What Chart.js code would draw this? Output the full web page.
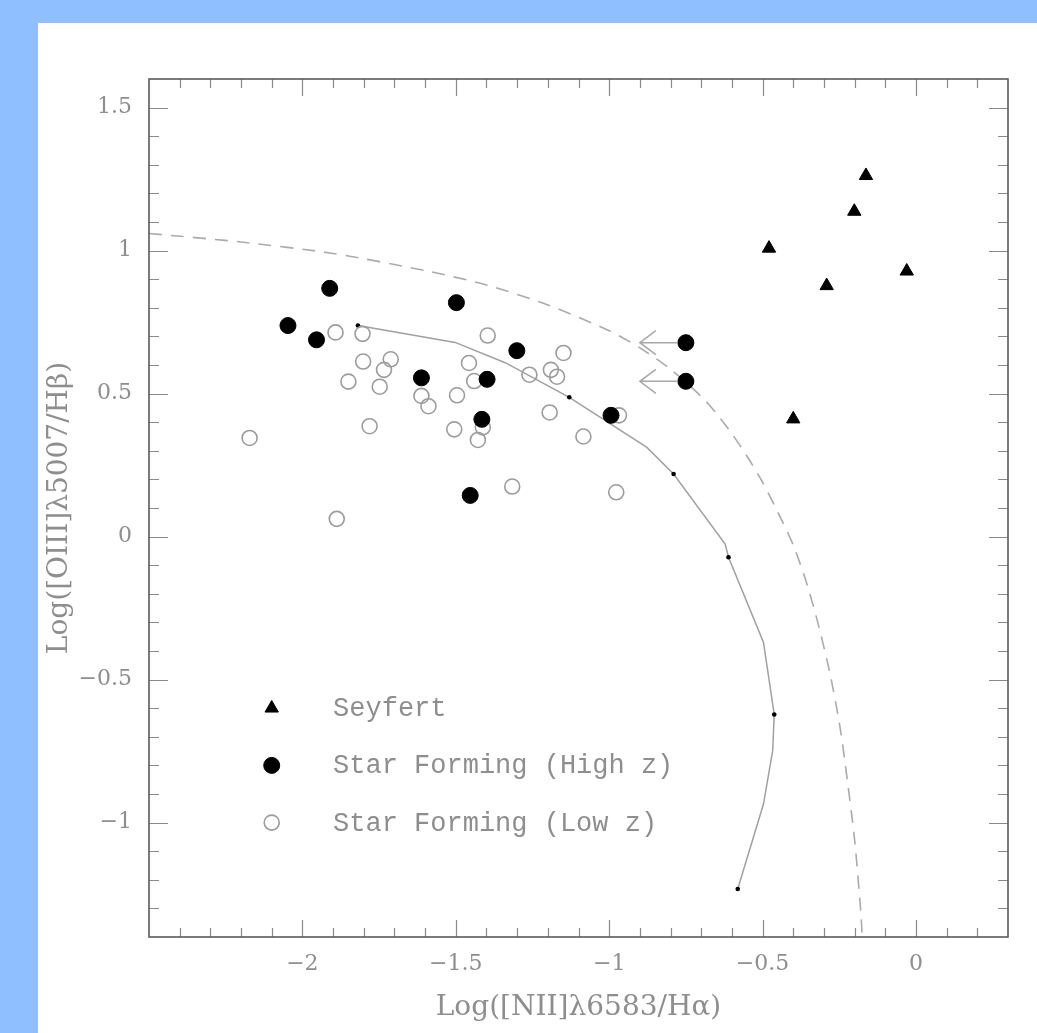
<!DOCTYPE html>
<html>
<head>
<meta charset="utf-8">
<title>BPT diagram</title>
<script src="https://cdn.jsdelivr.net/npm/chart.js@4.4.0/dist/chart.umd.min.js"></script>
<style>
  html, body { margin: 0; padding: 0; width: 1037px; height: 1033px; overflow: hidden; background: #8fbfff; }
  #panel { position: absolute; left: 38px; top: 23px; width: 999px; height: 1010px; background: #fff; }
  canvas { display: block; }
</style>
</head>
<body>
<div id="panel"><canvas id="bpt" width="999" height="1010"></canvas></div>
<script>
// ---- data -----------------------------------------------------------------
const xTitle = 'Log([NII]\u03bb6583/H\u03b1)';
const yTitle = 'Log([OIII]\u03bb5007/H\u03b2)';
const xTickValues = [-2, -1.5, -1, -0.5, 0];
const yTickValues = [-1, -0.5, 0, 0.5, 1, 1.5];

const seyfertX = [-0.163, -0.201, -0.479, -0.030, -0.291, -0.400];
const seyfertY = [1.262, 1.137, 1.008, 0.928, 0.877, 0.411];

const highZX = [-2.047, -1.954, -1.911, -1.612, -1.498, -1.453, -1.415, -1.398, -1.301, -0.994, -0.750, -0.750];
const highZY = [0.738, 0.688, 0.868, 0.555, 0.818, 0.144, 0.410, 0.550, 0.650, 0.424, 0.678, 0.543];
// [NII] upper limits: these objects get an arrow pointing to lower values
const highZLimit = [false, false, false, false, false, false, false, false, false, false, true, true];
const limitArrowTo = -0.90;

const lowZX = [-2.172, -1.892, -1.804, -1.802, -1.712, -1.734, -1.850, -1.748, -1.781, -1.888,
               -1.612, -1.589, -1.496, -1.505, -1.457, -1.440, -1.412, -1.428, -1.396, -1.316,
               -1.260, -1.190, -1.170, -1.149, -1.194, -1.084, -0.968, -0.977];
const lowZY = [0.345, 0.714, 0.709, 0.612, 0.620, 0.583, 0.542, 0.524, 0.386, 0.062,
               0.492, 0.456, 0.494, 0.375, 0.607, 0.544, 0.382, 0.338, 0.703, 0.175,
               0.566, 0.583, 0.559, 0.642, 0.434, 0.350, 0.424, 0.155];

// photoionization model track; grid nodes are marked with a dot
const modelX = [-1.819, -1.502, -1.339, -1.130, -0.877, -0.790, -0.622, -0.611, -0.497, -0.462, -0.467, -0.497, -0.581];
const modelY = [0.738, 0.679, 0.608, 0.487, 0.312, 0.219, -0.026, -0.072, -0.370, -0.622, -0.748, -0.935, -1.232];
const modelNodes = [0, 3, 5, 7, 9, 12];

// star-forming / AGN dividing line
const divX = [-2.5, -2.2, -1.9, -1.6, -1.4, -1.2, -1.0, -0.9, -0.8, -0.7, -0.65, -0.6, -0.55,
              -0.5, -0.45, -0.40, -0.36, -0.32, -0.28, -0.25, -0.23, -0.20, -0.18, -0.175];
const divY = [1.06, 1.03, 0.99, 0.93, 0.88, 0.81, 0.72, 0.66, 0.585, 0.49, 0.43, 0.36, 0.28,
              0.19, 0.085, -0.03, -0.15, -0.30, -0.48, -0.65, -0.80, -1.06, -1.31, -1.40];

const zip = (xs, ys) => xs.map((v, i) => ({ x: v, y: ys[i] }));
const fmt = v => (v < 0 ? '\u2212' + Math.abs(v) : String(v));

const labelGrey = '#8e8e8e';
const serif = 'DejaVu Serif';

// ---- plugins --------------------------------------------------------------
// Boxed frame with inward tick marks on all four sides
const framePlugin = {
  id: 'frame',
  afterDraw(chart) {
    const { ctx, chartArea: a, scales: { x, y } } = chart;
    ctx.save();
    ctx.strokeStyle = '#8a8a8a';
    ctx.lineWidth = 1.2;
    ctx.beginPath();
    for (let k = Math.ceil(x.min * 10 + 1e-6); k <= Math.floor(x.max * 10 - 1e-6); k++) {
      const px = Math.round(x.getPixelForValue(k / 10)) + 0.5;
      const len = k % 5 === 0 ? 17 : 9;
      ctx.moveTo(px, a.bottom); ctx.lineTo(px, a.bottom - len);
      ctx.moveTo(px, a.top); ctx.lineTo(px, a.top + len);
    }
    for (let k = Math.ceil(y.min * 10 + 1e-6); k <= Math.floor(y.max * 10 - 1e-6); k++) {
      const py = Math.round(y.getPixelForValue(k / 10)) + 0.5;
      const len = k % 5 === 0 ? 19 : 10;
      ctx.moveTo(a.left, py); ctx.lineTo(a.left + len, py);
      ctx.moveTo(a.right, py); ctx.lineTo(a.right - len, py);
    }
    ctx.stroke();
    ctx.strokeStyle = '#5a5a5a';
    ctx.lineWidth = 1.6;
    ctx.strokeRect(a.left, a.top, a.right - a.left, a.bottom - a.top);
    ctx.restore();
  }
};

// Arrows for upper limits, plus the in-panel key
const annotPlugin = {
  id: 'annot',
  afterDatasetsDraw(chart) {
    const { ctx, scales: { x, y } } = chart;
    ctx.save();
    ctx.strokeStyle = '#a8a8a8';
    ctx.lineWidth = 1.5;
    highZX.forEach((v, i) => {
      if (!highZLimit[i]) return;
      const x0 = x.getPixelForValue(v) - 8;
      const x1 = x.getPixelForValue(limitArrowTo);
      const py = y.getPixelForValue(highZY[i]);
      ctx.beginPath();
      ctx.moveTo(x0, py); ctx.lineTo(x1, py);
      ctx.moveTo(x1 + 16, py - 12); ctx.lineTo(x1, py); ctx.lineTo(x1 + 16, py + 12);
      ctx.stroke();
    });

    // key
    const rows = [
      { label: 'Seyfert', ds: 0, at: -0.6 },
      { label: 'Star Forming (High z)', ds: 1, at: -0.8 },
      { label: 'Star Forming (Low z)', ds: 2, at: -1.0 }
    ];
    const mx = x.getPixelForValue(-2.1);
    const tx = x.getPixelForValue(-1.9);
    ctx.font = '27px "Liberation Mono"';
    ctx.textAlign = 'left';
    ctx.textBaseline = 'alphabetic';
    rows.forEach(r => {
      const py = y.getPixelForValue(r.at);
      const o = chart.data.datasets[r.ds];
      ctx.fillStyle = o.backgroundColor;
      ctx.strokeStyle = o.borderColor;
      ctx.lineWidth = o.borderWidth;
      Chart.helpers.drawPoint(ctx, {
        pointStyle: o.pointStyle, radius: o.pointRadius, rotation: 0, borderWidth: o.borderWidth
      }, mx, py);
      ctx.fillStyle = labelGrey;
      ctx.fillText(r.label, tx, py + 8);
    });
    ctx.restore();
  }
};

// ---- chart ----------------------------------------------------------------
new Chart(document.getElementById('bpt'), {
  type: 'scatter',
  data: {
    datasets: [
      {
        label: 'Seyfert', data: zip(seyfertX, seyfertY), pointStyle: 'triangle', pointRadius: 7.7,
        backgroundColor: '#000', borderColor: '#000', borderWidth: 1, order: 0
      },
      {
        label: 'Star Forming (High z)', data: zip(highZX, highZY), pointStyle: 'circle', pointRadius: 8,
        backgroundColor: '#000', borderColor: '#000', borderWidth: 1, order: 1
      },
      {
        label: 'Star Forming (Low z)', data: zip(lowZX, lowZY), pointStyle: 'circle', pointRadius: 7.5,
        backgroundColor: 'rgba(255,255,255,0)', borderColor: '#9c9c9c', borderWidth: 1.6, order: 2
      },
      {
        label: 'model', data: zip(modelX, modelY), showLine: true, tension: 0,
        borderColor: '#a0a0a0', borderWidth: 1.5,
        pointRadius: ctx => (modelNodes.includes(ctx.dataIndex) ? 2.3 : 0),
        pointBackgroundColor: '#000', pointBorderWidth: 0, order: 3
      },
      {
        label: 'dividing line', data: zip(divX, divY), showLine: true, tension: 0.25,
        borderColor: '#ababab', borderWidth: 1.6, borderDash: [13, 9], pointRadius: 0, order: 4
      }
    ]
  },
  options: {
    responsive: false,
    animation: false,
    devicePixelRatio: 1,
    layout: { padding: { top: 56, right: 29, left: 0, bottom: 0 } },
    plugins: { legend: { display: false }, tooltip: { enabled: false } },
    scales: {
      x: {
        type: 'linear', min: -2.5, max: 0.3,
        grid: { display: false, drawTicks: false },
        border: { display: false },
        afterBuildTicks: s => { s.ticks = xTickValues.map(v => ({ value: v })); },
        afterFit: s => { s.height = 96; },
        ticks: { padding: 14, color: labelGrey, maxRotation: 0, autoSkip: false,
                 font: { family: serif, size: 22 }, callback: fmt },
        title: { display: true, text: xTitle, color: labelGrey,
                 font: { family: serif, size: 28 }, padding: { top: 0, bottom: 8 } }
      },
      y: {
        type: 'linear', min: -1.4, max: 1.6,
        grid: { display: false, drawTicks: false },
        border: { display: false },
        afterBuildTicks: s => { s.ticks = yTickValues.map(v => ({ value: v })); },
        afterFit: s => { s.width = 111; },
        ticks: { padding: 17, color: labelGrey, autoSkip: false,
                 font: { family: serif, size: 22 }, callback: fmt },
        title: { display: true, text: yTitle, color: labelGrey,
                 font: { family: serif, size: 28 }, padding: { top: 5, bottom: 0 } }
      }
    }
  },
  plugins: [framePlugin, annotPlugin]
});
</script>
</body>
</html>
